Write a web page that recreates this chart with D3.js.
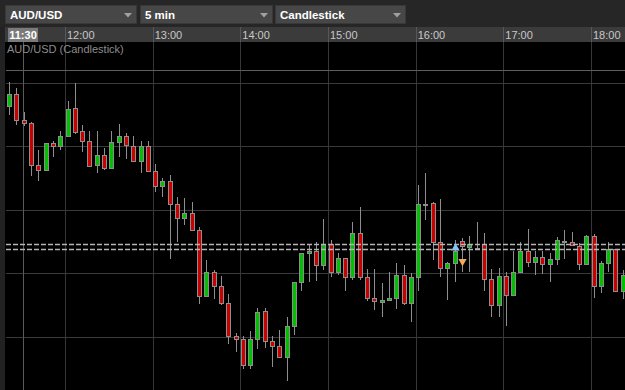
<!DOCTYPE html>
<html>
<head>
<meta charset="utf-8">
<script src="https://cdn.jsdelivr.net/npm/d3@7"></script>
<style>
  html, body { margin: 0; padding: 0; background: #000; }
  svg { display: block; font-family: "Liberation Sans", Arial, sans-serif; }
</style>
</head>
<body>
<div id="chart"></div>
<script>
// ---- data ----
const pairs = ["AUD/USD", "5 min", "Candlestick"];
const seriesTitle = "AUD/USD (Candlestick)";
const startTime = new Date(2013, 0, 15, 11, 20); // first bar
const barMinutes = 5;
const hourLabels = ["12:00", "13:00", "14:00", "15:00", "16:00", "17:00", "18:00"];
const cursorLabel = "11:30";

const opens = [1.05464,1.05482,1.05442,1.05437,1.05371,1.05363,1.05405,1.05400,1.05417,1.05460,
  1.05424,1.05409,1.05371,1.05387,1.05366,1.05407,1.05417,1.05401,1.05377,1.05400,
  1.05362,1.05338,1.05346,1.05310,1.05288,1.05295,1.05269,1.05164,1.05203,1.05181,
  1.05153,1.05102,1.05097,1.05056,1.05097,1.05141,1.05094,1.05086,1.05069,1.05118,
  1.05186,1.05232,1.05236,1.05213,1.05246,1.05202,1.05224,1.05194,1.05264,1.05194,
  1.05161,1.05155,1.05158,1.05161,1.05198,1.05153,1.05194,1.05309,1.05311,1.05250,
  1.05209,1.05216,1.05251,1.05242,1.05240,1.05247,1.05191,1.05150,1.05196,1.05166,
  1.05203,1.05236,1.05218,1.05226,1.05215,1.05223,1.05251,1.05250,1.05244,1.05215,
  1.05259,1.05181,1.05216,1.05238,1.05172];
const highs = [1.05501,1.05492,1.05454,1.05439,1.05395,1.05406,1.05408,1.05425,1.05472,1.05500,
  1.05434,1.05425,1.05425,1.05397,1.05424,1.05435,1.05422,1.05417,1.05409,1.05409,
  1.05372,1.05351,1.05355,1.05321,1.05319,1.05313,1.05274,1.05222,1.05206,1.05196,
  1.05168,1.05107,1.05101,1.05110,1.05145,1.05145,1.05101,1.05111,1.05132,1.05187,
  1.05233,1.05245,1.05249,1.05286,1.05253,1.05233,1.05225,1.05281,1.05304,1.05207,
  1.05207,1.05185,1.05203,1.05216,1.05214,1.05201,1.05340,1.05358,1.05313,1.05317,
  1.05218,1.05252,1.05256,1.05259,1.05281,1.05264,1.05207,1.05209,1.05202,1.05235,
  1.05250,1.05270,1.05235,1.05235,1.05233,1.05257,1.05269,1.05266,1.05248,1.05260,
  1.05262,1.05220,1.05249,1.05239,1.05206];
const lows = [1.05450,1.05434,1.05432,1.05354,1.05346,1.05362,1.05384,1.05394,1.05416,1.05420,
  1.05392,1.05368,1.05359,1.05363,1.05365,1.05384,1.05380,1.05376,1.05359,1.05361,
  1.05329,1.05321,1.05223,1.05249,1.05277,1.05268,1.05152,1.05163,1.05160,1.05151,
  1.05089,1.05077,1.05050,1.05049,1.05081,1.05082,1.05053,1.05068,1.05031,1.05103,
  1.05172,1.05187,1.05188,1.05206,1.05195,1.05198,1.05172,1.05190,1.05189,1.05157,
  1.05143,1.05132,1.05157,1.05144,1.05151,1.05123,1.05172,1.05285,1.05222,1.05194,
  1.05159,1.05186,1.05203,1.05202,1.05239,1.05173,1.05132,1.05131,1.05117,1.05165,
  1.05202,1.05211,1.05198,1.05199,1.05187,1.05214,1.05223,1.05243,1.05205,1.05214,
  1.05161,1.05170,1.05202,1.05171,1.05160];
const closes = [1.05482,1.05441,1.05437,1.05371,1.05363,1.05405,1.05401,1.05417,1.05459,1.05423,
  1.05409,1.05370,1.05387,1.05366,1.05407,1.05417,1.05402,1.05377,1.05400,1.05362,
  1.05338,1.05346,1.05310,1.05288,1.05295,1.05269,1.05164,1.05203,1.05181,1.05153,
  1.05102,1.05097,1.05056,1.05097,1.05140,1.05094,1.05086,1.05069,1.05118,1.05186,
  1.05233,1.05236,1.05213,1.05246,1.05202,1.05224,1.05194,1.05264,1.05194,1.05161,
  1.05156,1.05159,1.05161,1.05198,1.05153,1.05194,1.05309,1.05309,1.05250,1.05209,
  1.05217,1.05236,1.05243,1.05247,1.05240,1.05191,1.05150,1.05196,1.05166,1.05203,
  1.05236,1.05218,1.05226,1.05215,1.05223,1.05252,1.05251,1.05245,1.05215,1.05259,
  1.05181,1.05216,1.05238,1.05172,1.05198];

const gridPrices = [1.0550, 1.0540, 1.0530, 1.0520, 1.0510];
const bidAsk = [1.05247, 1.05239];
const cursorPrice = 1.05521;
const cursorTime = new Date(2013, 0, 15, 11, 31);
// trade signals: bar index, kind, price
const signalBars = [61, 62];
const signalKinds = ["buy", "sell"];
const signalPrices = [1.05240, 1.05219];

// ---- layout ----
const W = 625, H = 390;
const axisTop = 27, plotTop = 42, plotLeft = 6;

const svg = d3.select("#chart").append("svg")
  .attr("width", W).attr("height", H);

const x = d3.scaleTime()
  .domain([new Date(2013, 0, 15, 12), new Date(2013, 0, 15, 18)])
  .range([65, 591]);
const y = d3.scaleLinear()
  .domain([1.0510, 1.0550])
  .range([337, 83]);

const bars = opens.map((o, i) => ({
  t: d3.timeMinute.offset(startTime, i * barMinutes),
  o, h: highs[i], l: lows[i], c: closes[i]
}));

// background pieces
svg.append("rect").attr("width", W).attr("height", H).attr("fill", "#000");
svg.append("rect").attr("width", W).attr("height", axisTop).attr("fill", "#262626");
svg.append("rect").attr("y", axisTop).attr("width", W).attr("height", plotTop - axisTop).attr("fill", "#3b3b3b");
svg.append("rect").attr("y", axisTop).attr("width", plotLeft - 1).attr("height", H - axisTop).attr("fill", "#222");

// dropdowns
const boxes = [[5, 136], [140, 272], [275, 405]];
const dd = svg.append("g").selectAll("g").data(pairs).join("g");
dd.append("rect")
  .attr("x", (d, i) => boxes[i][0] + 0.5).attr("y", 5.5)
  .attr("width", (d, i) => boxes[i][1] - boxes[i][0]).attr("height", 18)
  .attr("fill", "#474747").attr("stroke", "#383838");
dd.append("text")
  .attr("x", (d, i) => boxes[i][0] + 5).attr("y", 18.5)
  .attr("fill", "#fff").attr("font-size", 11.5).attr("font-weight", "bold")
  .text(d => d);
dd.append("path")
  .attr("d", (d, i) => {
    const cx = boxes[i][1] - 8;
    return `M${cx - 4},13 L${cx + 4},13 L${cx},17.5 Z`;
  })
  .attr("fill", "#a0a0a0");

// time axis
const hours = d3.timeHour.range(new Date(2013, 0, 15, 12), new Date(2013, 0, 15, 18, 1));
const axisG = svg.append("g");
axisG.selectAll("line").data(hours).join("line")
  .attr("x1", d => Math.round(x(d)) + 0.5).attr("x2", d => Math.round(x(d)) + 0.5)
  .attr("y1", axisTop).attr("y2", plotTop)
  .attr("stroke", "#585858");
axisG.selectAll("text").data(hours).join("text")
  .attr("x", d => x(d) + 2).attr("y", 38.5)
  .attr("fill", "#c8c8c8").attr("font-size", 11)
  .text((d, i) => hourLabels[i]);

// cursor label box
const cx0 = Math.round(x(cursorTime));
axisG.append("rect")
  .attr("x", cx0 - 15).attr("y", axisTop + 1).attr("width", 30).attr("height", 14)
  .attr("fill", "#7a7a7a");
axisG.append("text")
  .attr("x", cx0).attr("y", 38.5).attr("text-anchor", "middle")
  .attr("fill", "#fff").attr("font-size", 11).attr("font-weight", "bold")
  .text(cursorLabel);

// plot
const plot = svg.append("g");
plot.append("clipPath").attr("id", "clip")
  .append("rect").attr("x", plotLeft).attr("y", plotTop).attr("width", W - plotLeft).attr("height", H - plotTop);
const inner = plot.append("g").attr("clip-path", "url(#clip)");

inner.selectAll(".vgrid").data(hours).join("line")
  .attr("class", "vgrid")
  .attr("x1", d => Math.round(x(d)) + 0.5).attr("x2", d => Math.round(x(d)) + 0.5)
  .attr("y1", plotTop).attr("y2", H)
  .attr("stroke", "#363636");
inner.selectAll(".hgrid").data(gridPrices).join("line")
  .attr("class", "hgrid")
  .attr("x1", plotLeft).attr("x2", W)
  .attr("y1", d => Math.round(y(d)) + 0.5).attr("y2", d => Math.round(y(d)) + 0.5)
  .attr("stroke", "#3a3a3a");

// cursor crosshair
inner.append("line")
  .attr("x1", cx0 + 0.5).attr("x2", cx0 + 0.5).attr("y1", plotTop).attr("y2", H)
  .attr("stroke", "#5a5a5a");
inner.append("line")
  .attr("x1", plotLeft).attr("x2", W)
  .attr("y1", Math.round(y(cursorPrice)) + 0.5).attr("y2", Math.round(y(cursorPrice)) + 0.5)
  .attr("stroke", "#5e5e5e");

inner.append("text")
  .attr("x", 7).attr("y", 53)
  .attr("fill", "#8c8c8c").attr("font-size", 11)
  .text(seriesTitle);

// candles
const left = d => Math.round(x(d.t) + 2.5) - 2;
const candle = inner.append("g").selectAll("g").data(bars).join("g");
candle.append("line")
  .attr("x1", d => left(d) + 2.5).attr("x2", d => left(d) + 2.5)
  .attr("y1", d => Math.round(y(d.h))).attr("y2", d => Math.round(y(d.l)))
  .attr("stroke", "#8e8e8e");
candle.append("rect")
  .attr("x", d => left(d) + 0.5)
  .attr("y", d => Math.round(y(Math.max(d.o, d.c))) + 0.5)
  .attr("width", 4)
  .attr("height", d => Math.max(1, Math.round(y(Math.min(d.o, d.c))) - Math.round(y(Math.max(d.o, d.c)))))
  .attr("fill", d => d.c > d.o ? "#00c000" : d.c < d.o ? "#c80000" : "#9a9a9a")
  .attr("stroke", "#8e8e8e");

// bid / ask dashed lines
inner.selectAll(".bidask").data(bidAsk).join("line")
  .attr("class", "bidask")
  .attr("x1", plotLeft).attr("x2", W)
  .attr("y1", d => Math.round(y(d)) + 0.5).attr("y2", d => Math.round(y(d)) + 0.5)
  .attr("stroke", "#b4b4b4").attr("stroke-width", 1.5)
  .attr("stroke-dasharray", "5,2");

// trade signals
inner.selectAll(".signal").data(signalBars).join("path")
  .attr("class", "signal")
  .attr("d", d3.symbol(d3.symbolTriangle, 30))
  .attr("transform", (d, i) => `translate(${left(bars[d]) + 2.5},${y(signalPrices[i])}) rotate(${signalKinds[i] === "buy" ? 0 : 180})`)
  .attr("fill", (d, i) => signalKinds[i] === "buy" ? "#86c3f0" : "#eeaa5c");
</script>
</body>
</html>
